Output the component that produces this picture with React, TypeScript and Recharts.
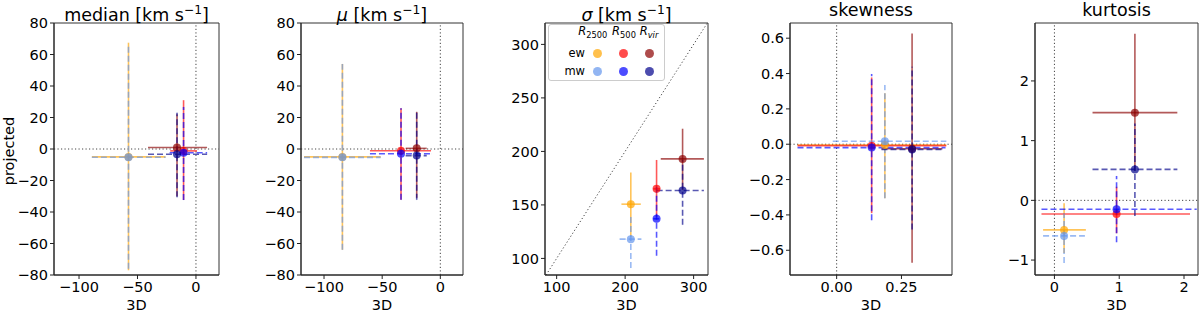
import React from 'react';
import { ScatterChart, Scatter, XAxis, YAxis, ErrorBar, ReferenceLine, ReferenceArea } from 'recharts';

const FONT = '"DejaVu Sans", sans-serif';

// series order: ew R2500, ew R500, ew Rvir, mw R2500, mw R500, mw Rvir
const seriesNames = ['ew R2500', 'ew R500', 'ew Rvir', 'mw R2500', 'mw R500', 'mw Rvir'];
const seriesColors = ['#ffa500', '#ff0000', '#8b0000', '#6495ed', '#0000ff', '#00008b'];
const seriesDashed = [false, false, false, true, true, true];

// median [km s^-1]
const medianX = [-57.7, -10.6, -16.2, -57.7, -10.6, -16.2];
const medianY = [-5.0, -1.2, 1.0, -5.2, -2.4, -3.3];
const medianXLo = [-89, -22, -41, -89, -22.5, -41];
const medianXHi = [-26, 0.9, 9.5, -26, 9.5, 9.5];
const medianYLo = [-77, -32.4, -30, -76, -32.4, -30.7];
const medianYHi = [67.5, 31, 22, 66, 26.7, 23];

// mu [km s^-1]
const muX = [-84.2, -33.8, -20.3, -84.2, -33.8, -20.3];
const muY = [-5.0, -1.1, 0.4, -5.3, -3.0, -4.2];
const muXLo = [-117.2, -60.5, -29.8, -117.2, -60.5, -29.8];
const muXHi = [-51.3, -8, -11.7, -51.3, -8, -11.7];
const muYLo = [-64, -32.3, -31, -64, -32.3, -32.3];
const muYHi = [54, 25.8, 23.6, 54, 25.8, 23.6];

// sigma [km s^-1]
const sigmaX = [208.3, 245.9, 283.9, 208.3, 245.9, 283.9];
const sigmaY = [150.7, 165, 193, 118, 137, 163.5];
const sigmaXLo = [194.6, 241, 252, 192, 241, 246];
const sigmaXHi = [222.9, 251, 315, 223.7, 251, 315];
const sigmaYLo = [120, 139, 164, 91, 102.5, 131.4];
const sigmaYHi = [180.2, 192, 221.2, 139, 167, 192];

// skewness
const skewX = [0.186, 0.135, 0.291, 0.186, 0.135, 0.291];
const skewY = [-0.004, -0.008, -0.026, 0.017, -0.019, -0.03];
const skewXLo = [-0.151, -0.151, 0.173, -0.015, -0.151, 0.173];
const skewXHi = [0.423, 0.423, 0.408, 0.423, 0.42, 0.408];
const skewYLo = [-0.305, -0.39, -0.671, -0.305, -0.43, -0.483];
const skewYHi = [0.288, 0.378, 0.626, 0.335, 0.397, 0.438];

// kurtosis
const kurtX = [0.149, 0.959, 1.242, 0.149, 0.959, 1.242];
const kurtY = [-0.495, -0.228, 1.469, -0.595, -0.15, 0.518];
const kurtXLo = [-0.175, -0.2, 0.588, -0.175, -0.2, 0.588];
const kurtXHi = [0.485, 2.093, 1.897, 0.47, 2.196, 1.897];
const kurtYLo = [-0.88, -0.551, 0.5, -1.05, -0.701, -0.262];
const kurtYHi = [-0.05, 0.228, 2.788, -0.217, 0.406, 1.285];

// tick labels
const medianXTicks = [-100, -50, 0];
const medianYTicks = [-80, -60, -40, -20, 0, 20, 40, 60, 80];
const muXTicks = [-100, -50, 0];
const muYTicks = [-80, -60, -40, -20, 0, 20, 40, 60, 80];
const sigmaXTicks = [100, 200, 300];
const sigmaYTicks = [100, 150, 200, 250, 300];
const skewXTicks = [0, 0.25];
const skewYTicks = [-0.6, -0.4, -0.2, 0, 0.2, 0.4, 0.6];
const kurtXTicks = [0, 1, 2];
const kurtYTicks = [-1, 0, 1, 2];

const minus = (s: string) => s.replace('-', '\u2212');
const fmt0 = (v: number) => minus(String(Math.round(v)));
const fmt1 = (v: number) => minus(v.toFixed(1));
const fmt2 = (v: number) => minus(v.toFixed(2));

function buildSeries(xs: number[], ys: number[], xlo: number[], xhi: number[], ylo: number[], yhi: number[]) {
  return seriesNames.map((name, i) => ({
    name,
    color: seriesColors[i],
    dashed: seriesDashed[i],
    data: [{ x: xs[i], y: ys[i], ex: [xs[i] - xlo[i], xhi[i] - xs[i]], ey: [ys[i] - ylo[i], yhi[i] - ys[i]] }],
  }));
}

type PanelCfg = {
  key: string;
  title: React.ReactNode;
  plotLeft: number;
  plotRight: number;
  xDomain: [number, number];
  yDomain: [number, number];
  xTicks: number[];
  yTicks: number[];
  xFmt: (v: number) => string;
  yFmt: (v: number) => string;
  series: ReturnType<typeof buildSeries>;
  zeroLines: boolean;
  diagonal?: boolean;
};

const panels: PanelCfg[] = [
  {
    key: 'median',
    title: <span>median [km s<sup style={{ fontSize: '0.7em' }}>{'\u22121'}</sup>]</span>,
    plotLeft: 54, plotRight: 219,
    xDomain: [-121.4, 19.7], yDomain: [-80, 80],
    xTicks: medianXTicks, yTicks: medianYTicks, xFmt: fmt0, yFmt: fmt0,
    series: buildSeries(medianX, medianY, medianXLo, medianXHi, medianYLo, medianYHi),
    zeroLines: true,
  },
  {
    key: 'mu',
    title: <span><i>μ</i> [km s<sup style={{ fontSize: '0.7em' }}>{'\u22121'}</sup>]</span>,
    plotLeft: 301, plotRight: 463,
    xDomain: [-119.8, 19.5], yDomain: [-80, 80],
    xTicks: muXTicks, yTicks: muYTicks, xFmt: fmt0, yFmt: fmt0,
    series: buildSeries(muX, muY, muXLo, muXHi, muYLo, muYHi),
    zeroLines: true,
  },
  {
    key: 'sigma',
    title: <span><i>σ</i> [km s<sup style={{ fontSize: '0.7em' }}>{'\u22121'}</sup>]</span>,
    plotLeft: 545, plotRight: 708,
    xDomain: [83, 321], yDomain: [84.5, 320],
    xTicks: sigmaXTicks, yTicks: sigmaYTicks, xFmt: fmt0, yFmt: fmt0,
    series: buildSeries(sigmaX, sigmaY, sigmaXLo, sigmaXHi, sigmaYLo, sigmaYHi),
    zeroLines: false, diagonal: true,
  },
  {
    key: 'skew',
    title: <span>skewness</span>,
    plotLeft: 790, plotRight: 952,
    xDomain: [-0.18, 0.445], yDomain: [-0.74, 0.686],
    xTicks: skewXTicks, yTicks: skewYTicks, xFmt: fmt2, yFmt: fmt1,
    series: buildSeries(skewX, skewY, skewXLo, skewXHi, skewYLo, skewYHi),
    zeroLines: true,
  },
  {
    key: 'kurt',
    title: <span>kurtosis</span>,
    plotLeft: 1035, plotRight: 1198,
    xDomain: [-0.3, 2.216], yDomain: [-1.25, 2.97],
    xTicks: kurtXTicks, yTicks: kurtYTicks, xFmt: fmt0, yFmt: fmt0,
    series: buildSeries(kurtX, kurtY, kurtXLo, kurtXHi, kurtYLo, kurtYHi),
    zeroLines: true,
  },
];

const YW = 60;
const RM = 4;
const TICK = { fontSize: 14.5, fill: '#000', fontFamily: FONT };
const DOT = '1.2 2.3';

function Panel({ cfg }: { cfg: PanelCfg }) {
  const w = cfg.plotRight - cfg.plotLeft;
  const cw = w + YW + RM;
  return (
    <div style={{ position: 'absolute', left: cfg.plotLeft - YW, top: 0, width: cw, height: 312 }}>
      <ScatterChart width={cw} height={312} margin={{ top: 23, right: RM, left: 0, bottom: 0 }}>
        <XAxis
          type="number" dataKey="x" domain={cfg.xDomain} ticks={cfg.xTicks} allowDataOverflow interval={0}
          height={37} tickSize={4} tickMargin={3} tick={TICK} tickFormatter={cfg.xFmt} stroke="#222"
          label={{ value: '3D', position: 'insideBottom', offset: 2, fontSize: 14.5, fill: '#000', fontFamily: FONT }}
        />
        <YAxis
          type="number" dataKey="y" domain={cfg.yDomain} ticks={cfg.yTicks} allowDataOverflow interval={0}
          width={YW} tickSize={4} tickMargin={2} tick={TICK} tickFormatter={cfg.yFmt} stroke="#222"
        />
        <ReferenceArea
          x1={cfg.xDomain[0]} x2={cfg.xDomain[1]} y1={cfg.yDomain[0]} y2={cfg.yDomain[1]}
          fill="none" fillOpacity={0} stroke="#333" strokeWidth={1} ifOverflow="visible"
        />
        {cfg.zeroLines && <ReferenceLine x={0} stroke="#444" strokeWidth={1} strokeDasharray={DOT} />}
        {cfg.zeroLines && <ReferenceLine y={0} stroke="#444" strokeWidth={1} strokeDasharray={DOT} />}
        {cfg.diagonal && (
          <ReferenceLine
            segment={[{ x: cfg.yDomain[0], y: cfg.yDomain[0] }, { x: cfg.yDomain[1], y: cfg.yDomain[1] }]}
            stroke="#444" strokeWidth={1} strokeDasharray={DOT}
          />
        )}
        {cfg.series.map((s) => (
          <Scatter
            key={s.name}
            name={s.name}
            data={s.data}
            isAnimationActive={false}
            shape={(p: any) => <circle cx={p.cx} cy={p.cy} r={4} fill={s.color} fillOpacity={0.7} />}
          >
            <ErrorBar dataKey="ex" direction="x" width={0} stroke={s.color} strokeWidth={1.6} strokeOpacity={0.65}
              strokeDasharray={s.dashed ? '6 3' : undefined} isAnimationActive={false} />
            <ErrorBar dataKey="ey" direction="y" width={0} stroke={s.color} strokeWidth={1.6} strokeOpacity={0.65}
              strokeDasharray={s.dashed ? '6 3' : undefined} isAnimationActive={false} />
          </Scatter>
        ))}
      </ScatterChart>
      <div style={{
        position: 'absolute', left: YW, width: w, top: -1, textAlign: 'center', fontFamily: FONT,
        fontSize: 17.5, lineHeight: '22px', color: '#000', whiteSpace: 'nowrap',
      }}>{cfg.title}</div>
    </div>
  );
}

const legendCols = [
  { label: <span><i>R</i><sub style={{ fontSize: '0.72em' }}>2500</sub></span>, x: 592.7 },
  { label: <span><i>R</i><sub style={{ fontSize: '0.72em' }}>500</sub></span>, x: 624 },
  { label: <span><i>R</i><sub style={{ fontSize: '0.72em' }}><i>vir</i></sub></span>, x: 649 },
];
const legendRows = [
  { label: 'ew', y: 53.3, colors: [seriesColors[0], seriesColors[1], seriesColors[2]] },
  { label: 'mw', y: 71, colors: [seriesColors[3], seriesColors[4], seriesColors[5]] },
];

function SigmaLegend() {
  const dotX = [597.3, 623.3, 649];
  return (
    <div style={{ position: 'absolute', left: 0, top: 0, width: 1200, height: 312, pointerEvents: 'none', fontFamily: FONT }}>
      <div style={{
        position: 'absolute', left: 548, top: 24, width: 117, height: 57, border: '1px solid #ccc',
        borderRadius: 3, background: 'rgba(255,255,255,0.8)', boxSizing: 'border-box',
      }} />
      {legendCols.map((c, i) => (
        <div key={i} style={{
          position: 'absolute', left: c.x, top: 33, transform: 'translate(-50%,-50%)', fontSize: 11.5,
          lineHeight: '14px', whiteSpace: 'nowrap', color: '#000',
        }}>{c.label}</div>
      ))}
      {legendRows.map((r) => (
        <React.Fragment key={r.label}>
          <div style={{
            position: 'absolute', right: 1200 - 585, top: r.y, transform: 'translateY(-50%)', fontSize: 11.5,
            lineHeight: '14px', color: '#000',
          }}>{r.label}</div>
          {r.colors.map((col, j) => (
            <div key={j} style={{
              position: 'absolute', left: dotX[j] - 4.5, top: r.y - 4.5, width: 9, height: 9, borderRadius: '50%',
              background: col, opacity: 0.7,
            }} />
          ))}
        </React.Fragment>
      ))}
    </div>
  );
}

export default function App() {
  return (
    <div style={{ position: 'absolute', left: 0, top: 0, width: 1200, height: 312, background: '#fff', overflow: 'hidden' }}>
      {panels.map((p) => <Panel key={p.key} cfg={p} />)}
      <SigmaLegend />
      <div style={{
        position: 'absolute', left: 9, top: 151, transform: 'translate(-50%,-50%) rotate(-90deg)',
        fontFamily: FONT, fontSize: 14.5, color: '#000', whiteSpace: 'nowrap',
      }}>projected</div>
    </div>
  );
}
